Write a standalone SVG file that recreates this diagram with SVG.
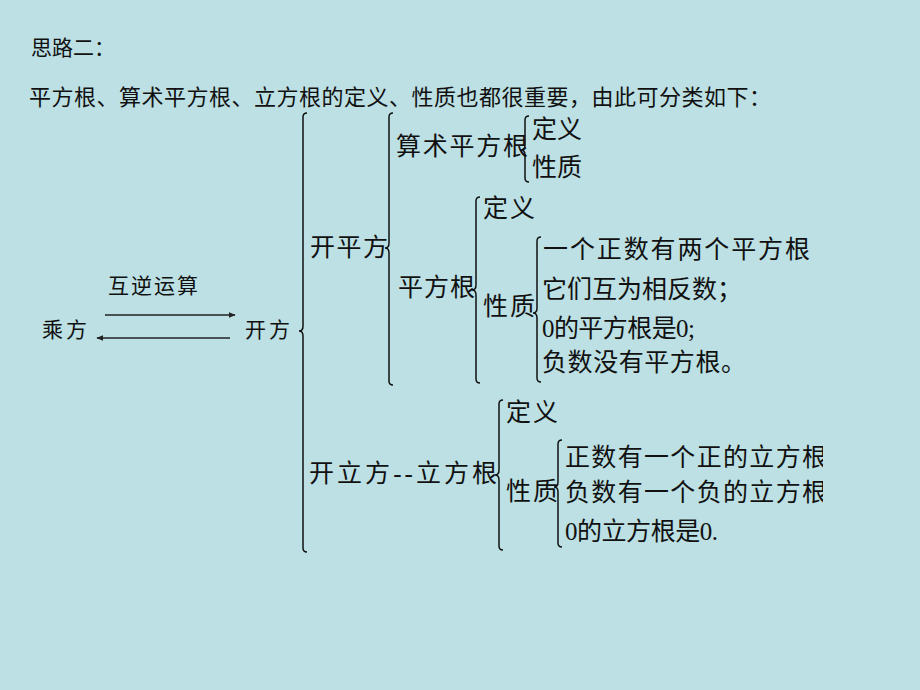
<svg xmlns="http://www.w3.org/2000/svg" width="920" height="690" viewBox="0 0 920 690">
<defs>
<style>
text{font-family:"Liberation Serif","Noto Sans CJK SC",serif;fill:#111;}
.t1{font-size:21px;}
.t2{font-size:22px;}
.big{font-size:25px;}
.sm{font-size:21px;}
.br{fill:none;stroke:#111;stroke-width:1.5;}
.ar{stroke:#222;stroke-width:1.3;fill:none;}
</style>
<marker id="ah" viewBox="0 0 10 10" refX="9" refY="5" markerWidth="7" markerHeight="7" orient="auto" markerUnits="userSpaceOnUse">
<path d="M0,1 L10,5 L0,9 Z" fill="#222"/>
</marker>
<clipPath id="cut"><rect x="0" y="0" width="823" height="690"/></clipPath>
</defs>
<rect width="920" height="690" fill="#BCE0E3"/>

<g id="title">
<text class="t1" x="31" y="55">思路二：</text>
<text class="t2" x="29" y="105" textLength="742" lengthAdjust="spacing">平方根、算术平方根、立方根的定义、性质也都很重要，由此可分类如下：</text>
</g>

<g id="connectors">
<line class="ar" x1="105" y1="315" x2="235" y2="315" marker-end="url(#ah)"/>
<line class="ar" x1="230" y1="338" x2="97" y2="338" marker-end="url(#ah)"/>
<path class="br" d="M307,113 Q303,113 303,117 L303,326 Q303,331 299,331 Q303,331 303,336 L303,548 Q303,552 307,552"/>
<path class="br" d="M393,113 Q389,113 389,117 L389,243 Q389,248 385,248 Q389,248 389,253 L389,381 Q389,385 393,385"/>
<path class="br" d="M529,116 Q525,116 525,120 L525,145 Q525,150 521,150 Q525,150 525,155 L525,178 Q525,182 529,182"/>
<path class="br" d="M480,197 Q476,197 476,201 L476,285 Q476,290 472,290 Q476,290 476,295 L476,379 Q476,383 480,383"/>
<path class="br" d="M541,237 Q537,237 537,241 L537,308 Q537,313 533,313 Q537,313 537,318 L537,378 Q537,382 541,382"/>
<path class="br" d="M503,400 Q499,400 499,404 L499,470 Q499,475 495,475 Q499,475 499,480 L499,546 Q499,550 503,550"/>
<path class="br" d="M562,440 Q558,440 558,444 L558,482 Q558,487 554,487 Q558,487 558,492 L558,543 Q558,547 562,547"/>
</g>

<g id="node-inverse">
<text class="sm" x="108" y="293" textLength="90" lengthAdjust="spacing">互逆运算</text>
</g>
<g id="node-chengfang">
<text class="sm" x="42" y="337" textLength="45" lengthAdjust="spacing">乘方</text>
</g>
<g id="node-kaifang">
<text class="sm" x="245" y="337" textLength="45" lengthAdjust="spacing">开方</text>
</g>

<g id="node-kaipingfang">
<text class="big" x="310" y="256" textLength="78" lengthAdjust="spacing">开平方</text>
</g>
<g id="node-suanshu">
<text class="big" x="396" y="155" textLength="132" lengthAdjust="spacing">算术平方根</text>
</g>
<g id="node-suanshu-def">
<text class="big" x="532" y="138" textLength="50" lengthAdjust="spacing">定义</text>
</g>
<g id="node-suanshu-prop">
<text class="big" x="532" y="176" textLength="50" lengthAdjust="spacing">性质</text>
</g>

<g id="node-pingfanggen">
<text class="big" x="398" y="296" textLength="77" lengthAdjust="spacing">平方根</text>
</g>
<g id="node-pfg-def">
<text class="big" x="483" y="217" textLength="52" lengthAdjust="spacing">定义</text>
</g>
<g id="node-pfg-prop">
<text class="big" x="483" y="315" textLength="52" lengthAdjust="spacing">性质</text>
</g>
<g id="node-pfg-props">
<text class="big" x="543" y="258" textLength="267" lengthAdjust="spacing">一个正数有两个平方根</text>
<text class="big" x="542" y="298" textLength="200" lengthAdjust="spacing">它们互为相反数；</text>
<text class="big" x="542" y="337" textLength="153" lengthAdjust="spacing">0的平方根是0;</text>
<text class="big" x="542" y="371" textLength="204" lengthAdjust="spacing">负数没有平方根。</text>
</g>

<g id="node-kailifang">
<text class="big" x="309" y="482" textLength="188" lengthAdjust="spacing">开立方--立方根</text>
</g>
<g id="node-lfg-def">
<text class="big" x="506" y="421" textLength="52" lengthAdjust="spacing">定义</text>
</g>
<g id="node-lfg-prop">
<text class="big" x="506" y="500" textLength="52" lengthAdjust="spacing">性质</text>
</g>
<g id="node-lfg-props" clip-path="url(#cut)">
<text class="big" x="565" y="466" textLength="262" lengthAdjust="spacing">正数有一个正的立方根</text>
<text class="big" x="565" y="501" textLength="262" lengthAdjust="spacing">负数有一个负的立方根</text>
<text class="big" x="565" y="540" textLength="153" lengthAdjust="spacing">0的立方根是0.</text>
</g>
</svg>
